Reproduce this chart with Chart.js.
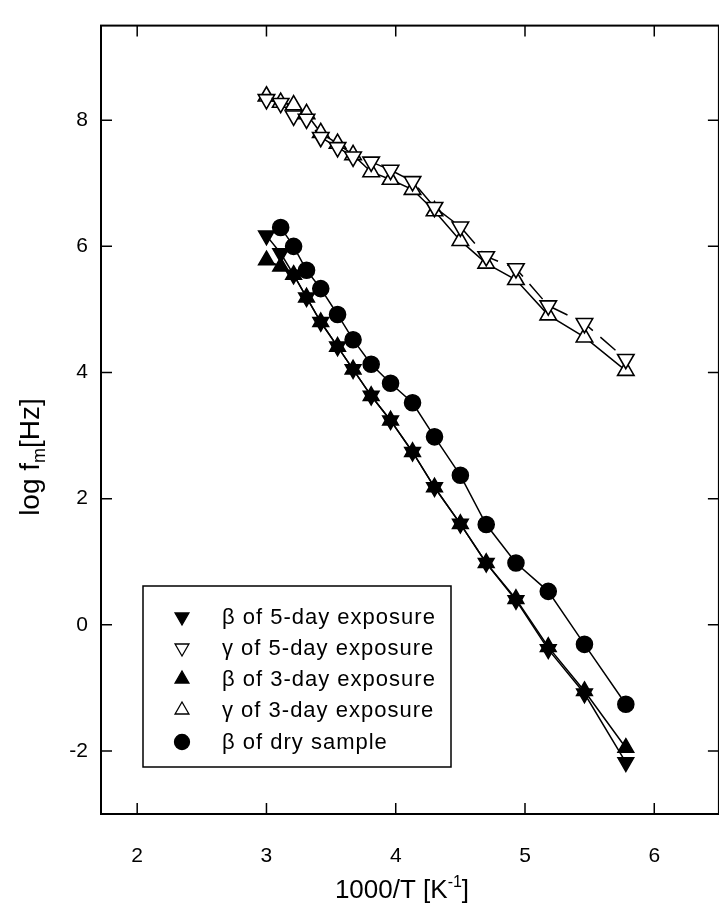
<!DOCTYPE html>
<html>
<head>
<meta charset="utf-8">
<script src="https://cdn.jsdelivr.net/npm/chart.js@4.4.1/dist/chart.umd.min.js"></script>
<style>
  html, body { margin: 0; padding: 0; overflow: hidden; background: #fff; }
</style>
</head>
<body>
<canvas id="chart" width="730" height="909"></canvas>
<script>
// 1000/T values shared by all series (dry sample starts at the second one)
const invT = [3.00, 3.11, 3.21, 3.31, 3.42, 3.55, 3.67, 3.81, 3.96, 4.13, 4.30, 4.50, 4.70, 4.93, 5.18, 5.46, 5.78];
const invTDry = invT.slice(1);

// log fm values
const beta5 = [6.17, 5.89, 5.55, 5.19, 4.80, 4.41, 4.05, 3.63, 3.24, 2.74, 2.18, 1.60, 0.98, 0.39, -0.39, -1.09, -2.18];
const gamma5 = [8.33, 8.27, 8.07, 8.02, 7.73, 7.57, 7.42, 7.34, 7.21, 7.03, 6.62, 6.31, 5.84, 5.65, 5.06, 4.78, 4.21];
const beta3 = [5.78, 5.68, 5.55, 5.19, 4.80, 4.41, 4.05, 3.63, 3.24, 2.74, 2.18, 1.60, 0.98, 0.41, -0.35, -1.05, -1.95];
const gamma3 = [8.38, 8.28, 8.24, 8.10, 7.80, 7.63, 7.45, 7.18, 7.06, 6.90, 6.56, 6.09, 5.73, 5.47, 4.91, 4.56, 4.03];
const betaDry = [6.30, 6.00, 5.62, 5.33, 4.92, 4.52, 4.13, 3.83, 3.52, 2.98, 2.37, 1.59, 0.98, 0.53, -0.31, -1.26];

const seriesLabels = ['β of 5-day exposure', 'γ of 5-day exposure', 'β of 3-day exposure', 'γ of 3-day exposure', 'β of dry sample'];
const xTicks = [2, 3, 4, 5, 6];
const yTicks = [-2, 0, 2, 4, 6, 8];

const FONT = '"Liberation Sans", Arial, sans-serif';

function pts(xs, ys) {
  return ys.map((y, i) => ({ x: xs[i], y: y }));
}

function series(label, data, opts) {
  return Object.assign({
    label: label,
    data: data,
    borderColor: '#000',
    borderWidth: 1.5,
    pointBorderColor: '#000',
    pointBorderWidth: 1.6,
    tension: 0,
    showLine: true
  }, opts);
}

// frame with inward ticks, axis titles and the boxed legend
const decorations = {
  id: 'decorations',
  afterDraw(chart) {
    const ctx = chart.ctx;
    const a = chart.chartArea;
    const xs = chart.scales.x, ys = chart.scales.y;
    ctx.save();
    ctx.strokeStyle = '#000';
    ctx.lineWidth = 2;
    ctx.strokeRect(a.left, a.top, a.right - a.left, a.bottom - a.top);
    ctx.lineWidth = 1.5;
    ctx.beginPath();
    xTicks.forEach(v => {
      const p = xs.getPixelForValue(v);
      ctx.moveTo(p, a.bottom); ctx.lineTo(p, a.bottom - 11);
      ctx.moveTo(p, a.top); ctx.lineTo(p, a.top + 11);
    });
    yTicks.forEach(v => {
      const p = ys.getPixelForValue(v);
      ctx.moveTo(a.left, p); ctx.lineTo(a.left + 11, p);
      ctx.moveTo(a.right, p); ctx.lineTo(a.right - 11, p);
    });
    ctx.stroke();

    // x title with superscript
    ctx.fillStyle = '#000';
    ctx.textBaseline = 'alphabetic';
    const t1 = '1000/T [K', t2 = '-1', t3 = ']';
    ctx.font = '16px ' + FONT;
    const w2 = ctx.measureText(t2).width;
    ctx.font = '26px ' + FONT;
    const w1 = ctx.measureText(t1).width, w3 = ctx.measureText(t3).width;
    const x0 = 402 - (w1 + w2 + w3) / 2;
    const yb = 898;
    ctx.fillText(t1, x0, yb);
    ctx.font = '16px ' + FONT;
    ctx.fillText(t2, x0 + w1, yb - 11);
    ctx.font = '26px ' + FONT;
    ctx.fillText(t3, x0 + w1 + w2, yb);

    // y title with subscript, rotated
    ctx.save();
    ctx.translate(39, 457);
    ctx.rotate(-Math.PI / 2);
    const s1 = 'log f', s2 = 'm', s3 = '[Hz]';
    ctx.font = '28px ' + FONT;
    const v1 = ctx.measureText(s1).width, v3 = ctx.measureText(s3).width;
    ctx.font = '18px ' + FONT;
    const v2 = ctx.measureText(s2).width;
    const y0 = -(v1 + v2 + v3) / 2;
    ctx.font = '28px ' + FONT;
    ctx.fillText(s1, y0, 0);
    ctx.font = '18px ' + FONT;
    ctx.fillText(s2, y0 + v1, 6);
    ctx.font = '28px ' + FONT;
    ctx.fillText(s3, y0 + v1 + v2, 0);
    ctx.restore();

    // legend box
    ctx.fillStyle = '#fff';
    ctx.fillRect(143, 586, 308, 181);
    ctx.lineWidth = 1.5;
    ctx.strokeRect(143, 586, 308, 181);
    const rows = [617, 648, 679, 710, 742];
    chart.data.datasets.forEach((ds, i) => {
      const y = rows[i];
      ctx.fillStyle = ds.pointBackgroundColor;
      ctx.strokeStyle = '#000';
      ctx.lineWidth = 1.3;
      Chart.helpers.drawPoint(ctx, {
        pointStyle: ds.pointStyle,
        rotation: ds.pointRotation || 0,
        radius: ds.pointStyle === 'circle' ? 7.5 : 8,
        borderWidth: 1.3
      }, 182, y);
      ctx.fillStyle = '#000';
      ctx.font = '22px ' + FONT;
      ctx.letterSpacing = '1px';
      ctx.textBaseline = 'middle';
      ctx.fillText(ds.label, 222, y + 1);
      ctx.letterSpacing = '0px';
    });
    ctx.restore();
  }
};

new Chart(document.getElementById('chart').getContext('2d'), {
  type: 'scatter',
  data: {
    datasets: [
      series(seriesLabels[0], pts(invT, beta5), {
        pointStyle: 'triangle', pointRotation: 180, pointRadius: 9,
        pointBackgroundColor: '#000'
      }),
      series(seriesLabels[1], pts(invT, gamma5), {
        pointStyle: 'triangle', pointRotation: 180, pointRadius: 9.5,
        pointBackgroundColor: '#fff', borderDash: [20, 10]
      }),
      series(seriesLabels[2], pts(invT, beta3), {
        pointStyle: 'triangle', pointRadius: 9,
        pointBackgroundColor: '#000'
      }),
      series(seriesLabels[3], pts(invT, gamma3), {
        pointStyle: 'triangle', pointRadius: 9.5,
        pointBackgroundColor: '#fff'
      }),
      series(seriesLabels[4], pts(invTDry, betaDry), {
        pointStyle: 'circle', pointRadius: 8,
        pointBackgroundColor: '#000'
      })
    ]
  },
  options: {
    responsive: false,
    animation: false,
    layout: { padding: { top: 13, right: 5, left: 0, bottom: 0 } },
    plugins: {
      legend: { display: false },
      tooltip: { enabled: false }
    },
    scales: {
      x: {
        type: 'linear',
        min: 1.72,
        max: 6.5,
        afterBuildTicks: s => { s.ticks = xTicks.map(v => ({ value: v })); },
        afterFit: s => { s.height = 95; },
        grid: { display: false, drawTicks: false },
        border: { display: false },
        ticks: {
          color: '#000',
          padding: 30,
          font: { family: FONT, size: 21 },
          callback: v => String(v)
        }
      },
      y: {
        type: 'linear',
        min: -3,
        max: 9.5,
        afterBuildTicks: s => { s.ticks = yTicks.map(v => ({ value: v })); },
        afterFit: s => { s.width = 101; },
        grid: { display: false, drawTicks: false },
        border: { display: false },
        ticks: {
          color: '#000',
          padding: 13,
          font: { family: FONT, size: 21 },
          callback: v => String(v)
        }
      }
    }
  },
  plugins: [decorations]
});
</script>
</body>
</html>
